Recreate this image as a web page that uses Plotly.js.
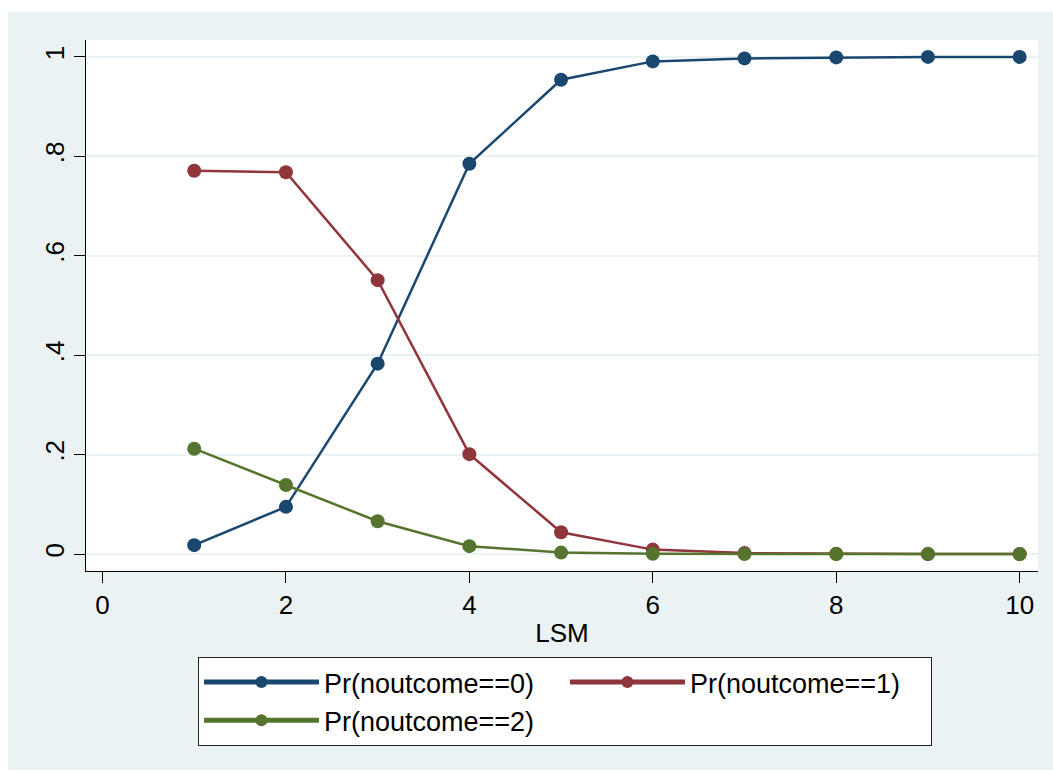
<!DOCTYPE html>
<html>
<head>
<meta charset="utf-8">
<script src="https://cdn.plot.ly/plotly-3.0.1.min.js"></script>
<style>
  html, body { margin: 0; padding: 0; background: #ffffff; width: 1053px; height: 774px; overflow: hidden; }
  #chart { position: absolute; left: 8px; top: 12px; width: 1045px; height: 758px; }
</style>
</head>
<body>
<div id="chart"></div>
<script>
const lsm = [1, 2, 3, 4, 5, 6, 7, 8, 9, 10];
const pr0 = [0.018, 0.095, 0.383, 0.785, 0.954, 0.991, 0.997, 0.999, 1.000, 1.000];
const pr1 = [0.771, 0.768, 0.551, 0.201, 0.044, 0.009, 0.002, 0.0005, 0.0001, 0.0000];
const pr2 = [0.212, 0.139, 0.066, 0.016, 0.003, 0.0006, 0.0001, 0.0000, 0.0000, 0.0000];
const seriesNames = ['Pr(noutcome==0)', 'Pr(noutcome==1)', 'Pr(noutcome==2)'];
const xTicks = [0, 2, 4, 6, 8, 10];
const yTicks = [0, 0.2, 0.4, 0.6, 0.8, 1];
const yTickText = ['0', '.2', '.4', '.6', '.8', '1'];
const xTitle = 'LSM';

const colors = ['#1A476F', '#90353B', '#55752F'];
const values = [pr0, pr1, pr2];

const traces = values.map((v, i) => ({
  x: lsm,
  y: v,
  type: 'scatter',
  mode: 'lines+markers',
  name: seriesNames[i],
  line: { color: colors[i], width: 2.5 },
  marker: { color: colors[i], size: 14 }
}));

const font = 'Arial, "Liberation Sans", Helvetica, sans-serif';

const layout = {
  width: 1045,
  height: 758,
  paper_bgcolor: '#EAF2F3',
  plot_bgcolor: '#ffffff',
  margin: { l: 78, r: 15, t: 28, b: 199 },
  font: { family: font, size: 26, color: '#000000' },
  showlegend: true,
  xaxis: {
    range: [-0.18, 10.2],
    tickvals: xTicks,
    ticktext: xTicks.map(String),
    ticks: 'outside',
    ticklen: 11,
    tickwidth: 1,
    tickcolor: '#000000',
    showline: true,
    linecolor: '#000000',
    linewidth: 1,
    showgrid: false,
    zeroline: false,
    tickfont: { family: font, size: 26, color: '#000000' },
    title: { text: xTitle, font: { family: font, size: 26, color: '#000000' }, standoff: 4 }
  },
  yaxis: {
    range: [-0.034, 1.034],
    tickvals: yTicks,
    ticktext: yTickText,
    tickangle: -90,
    ticks: 'outside',
    ticklen: 11,
    tickwidth: 1,
    tickcolor: '#000000',
    showline: true,
    linecolor: '#000000',
    linewidth: 1,
    showgrid: true,
    gridcolor: '#EAF2F3',
    gridwidth: 2,
    zeroline: false,
    tickfont: { family: font, size: 26, color: '#000000' }
  },
  legend: {
    orientation: 'h',
    x: 0.1176,
    xanchor: 'left',
    y: -0.162,
    yanchor: 'top',
    bgcolor: '#ffffff',
    bordercolor: '#222222',
    borderwidth: 1,
    entrywidth: 236,
    entrywidthmode: 'pixels',
    itemwidth: 115,
    itemsizing: 'constant',
    font: { family: font, size: 27, color: '#000000' },
    traceorder: 'normal'
  }
};

Plotly.newPlot('chart', traces, layout, { displayModeBar: false, staticPlot: true });
</script>
</body>
</html>
